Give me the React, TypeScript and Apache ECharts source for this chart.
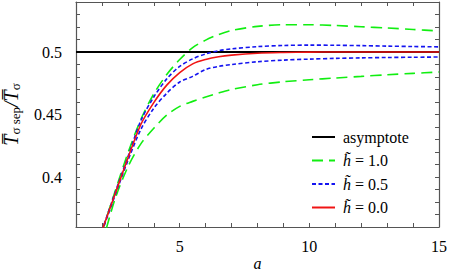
import React, { useEffect, useRef } from "react";
import * as echarts from "echarts";

const aGrid = [2, 2.5, 3, 3.5, 4, 4.5, 5, 5.5, 6, 6.5, 7, 8, 9, 10, 11, 12, 13, 14, 15];
const asymA = [1, 15];
const asymV = [0.5, 0.5];
const h10Upper = [0.356, 0.388, 0.419, 0.446, 0.4665, 0.482, 0.494, 0.5035, 0.5095, 0.514, 0.5172, 0.5205, 0.5218, 0.5218, 0.5212, 0.5202, 0.5192, 0.518, 0.5168];
const h10Lower = [0.346, 0.382, 0.408, 0.4265, 0.439, 0.4495, 0.4565, 0.4605, 0.464, 0.4672, 0.47, 0.4738, 0.4762, 0.4778, 0.4792, 0.4805, 0.4818, 0.4829, 0.484];
const h05Upper = [0.357, 0.387, 0.416, 0.445, 0.464, 0.4785, 0.4885, 0.4945, 0.4985, 0.501, 0.5025, 0.5043, 0.5052, 0.5055, 0.5054, 0.5051, 0.5047, 0.5044, 0.5041];
const h05Lower = [0.356, 0.385, 0.413, 0.438, 0.455, 0.467, 0.476, 0.4805, 0.486, 0.4885, 0.49, 0.4922, 0.4935, 0.4943, 0.4949, 0.4953, 0.4956, 0.4958, 0.496];
const h00 = [0.357, 0.386, 0.415, 0.442, 0.4595, 0.4735, 0.4835, 0.4905, 0.494, 0.4962, 0.4975, 0.499, 0.4996, 0.4999, 0.5, 0.5, 0.5, 0.5, 0.5];
const xLabels = [5, 10, 15];
const yLabels = [0.4, 0.45, 0.5];
const legendNames = ["asymptote", "h\u0303 = 1.0", "h\u0303 = 0.5", "h\u0303 = 0.0"];

const FONT = "Liberation Serif";
const AX = "#555";
const GREEN = "#11ee11";
const BLUE = "#1414f0";
const RED = "#f01414";

const pair = (xs: number[], ys: number[]) => xs.map((x, i) => [x, ys[i]]);

export default function App() {
  const ref = useRef<HTMLDivElement>(null);
  useEffect(() => {
    if (!ref.current) return;
    const chart = echarts.init(ref.current, undefined, { renderer: "svg" });
    const tick = { show: true, inside: true, length: 4, lineStyle: { color: AX, width: 1 } };
    const axLine = { show: true, onZero: false, lineStyle: { color: AX, width: 1.2 } };
    const xFmt = (v: number) => (xLabels.some((l) => Math.abs(l - v) < 1e-6) ? String(v) : "");
    const yFmt = (v: number) => {
      const m = yLabels.find((l) => Math.abs(l - v) < 1e-6);
      return m === undefined ? "" : String(m);
    };
    const lineSeries = (name: string, data: number[][], color: string, type: any, width = 1.6) => ({
      type: "line",
      name,
      data,
      showSymbol: false,
      symbol: "none",
      smooth: 0.3,
      lineStyle: { color, width, type },
      itemStyle: { color },
      clip: true,
    });
    chart.setOption({
      animation: false,
      textStyle: { fontFamily: FONT },
      grid: { left: 76, top: 2, right: 10, bottom: 46, containLabel: false, outerBoundsMode: "none" },
      legend: {
        orient: "vertical",
        left: 306,
        top: 124,
        itemWidth: 23,
        itemHeight: 16,
        itemGap: 7.5,
        data: legendNames,
        itemStyle: { color: "rgba(0,0,0,0)", borderWidth: 0 },
        formatter: (n: string) => (n.startsWith("h") ? "{i|h\u0303}" + n.slice(2) : n),
        textStyle: {
          fontFamily: FONT,
          fontSize: 16,
          color: "#000",
          padding: [0, 0, 0, 3],
          rich: { i: { fontFamily: FONT, fontSize: 16, fontStyle: "italic", color: "#000" } },
        },
      },
      xAxis: [
        {
          type: "value",
          min: 1,
          max: 15,
          interval: 1,
          position: "bottom",
          axisLine: axLine,
          axisTick: tick,
          splitLine: { show: false },
          axisLabel: { formatter: xFmt, fontFamily: FONT, fontSize: 16, color: "#000", margin: 11 },
          name: "a",
          nameLocation: "middle",
          nameGap: 28,
          nameMoveOverlap: false,
          nameTextStyle: { fontFamily: FONT, fontSize: 16, fontStyle: "italic", color: "#000" },
        },
        {
          type: "value",
          min: 1,
          max: 15,
          interval: 1,
          position: "top",
          axisLine: axLine,
          axisTick: tick,
          splitLine: { show: false },
          axisLabel: { show: false },
        },
      ],
      yAxis: [
        {
          type: "value",
          min: 0.36,
          max: 0.54,
          interval: 0.01,
          position: "left",
          axisLine: axLine,
          axisTick: tick,
          splitLine: { show: false },
          axisLabel: { formatter: yFmt, fontFamily: FONT, fontSize: 16, color: "#000", margin: 14 },
          name: "{t|T\u0305}{s|\u03c3 sep}{t|/T\u0305}{s|\u03c3}",
          nameLocation: "middle",
          nameGap: 54,
          nameMoveOverlap: false,
          nameRotate: 90,
          nameTextStyle: {
            color: "#000",
            fontFamily: FONT,
            rich: {
              t: { fontFamily: FONT, fontSize: 20, fontStyle: "italic", color: "#000" },
              s: { fontFamily: FONT, fontSize: 13, color: "#000", padding: [9, 0, 0, 0] },
            },
          },
        },
        {
          type: "value",
          min: 0.36,
          max: 0.54,
          interval: 0.01,
          position: "right",
          axisLine: axLine,
          axisTick: tick,
          splitLine: { show: false },
          axisLabel: { show: false },
        },
      ],
      series: [
        lineSeries(legendNames[0], pair(asymA, asymV), "#000", "solid", 1.8),
        lineSeries(legendNames[1], pair(aGrid, h10Upper), GREEN, [11, 6]),
        lineSeries(legendNames[1], pair(aGrid, h10Lower), GREEN, [11, 6]),
        lineSeries(legendNames[2], pair(aGrid, h05Upper), BLUE, [4, 2.5]),
        lineSeries(legendNames[2], pair(aGrid, h05Lower), BLUE, [4, 2.5]),
        lineSeries(legendNames[3], pair(aGrid, h00), RED, "solid"),
      ],
    });
    return () => chart.dispose();
  }, []);
  return <div ref={ref} style={{ width: 449, height: 273, position: "absolute", left: 0, top: 0 }} />;
}
